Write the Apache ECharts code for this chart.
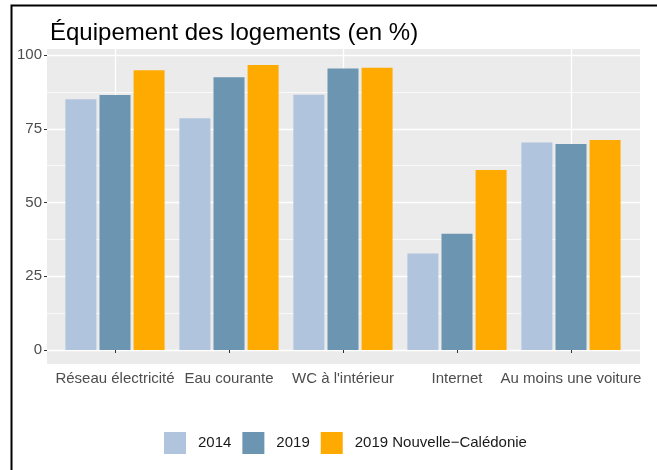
<!DOCTYPE html>
<html>
<head>
<meta charset="utf-8">
<script src="https://cdn.jsdelivr.net/npm/echarts@6/dist/echarts.min.js"></script>
<style>
  html, body { margin: 0; padding: 0; background: #fff; }
  #main { width: 657px; height: 470px; }
</style>
</head>
<body>
<div id="main"></div>
<script>
// données
var categories = ['Réseau électricité', 'Eau courante', "WC à l'intérieur", 'Internet', 'Au moins une voiture'];
var seriesNames = ['2014', '2019', '2019 Nouvelle−Calédonie'];
var values2014 = [85, 78.6, 86.5, 32.7, 70.3];
var values2019 = [86.4, 92.5, 95.4, 39.4, 69.8];
var valuesNC = [94.8, 96.6, 95.7, 61, 71.2];
var yTicks = [0, 25, 50, 75, 100];

(function () {
  var myChart = echarts.init(document.getElementById('main'));
  var font = 'Liberation Sans, Arial, sans-serif';
  var colors = ['#b0c4de', '#6b95b0', '#ffaa00'];
  var option;
  option = {
    animation: false,
    textStyle: { fontFamily: font },
    title: {
      text: 'Équipement des logements (en %)',
      left: 45,
      top: 16,
      textStyle: { color: '#000', fontSize: 24, fontWeight: 'normal', fontFamily: font }
    },
    graphic: [
      // fond du panneau (style ggplot)
      { type: 'rect', z: -10, shape: { x: 47, y: 49, width: 593, height: 315 }, style: { fill: '#ebebeb' } },
      // cadre noir
      { type: 'polyline', z: 10, shape: { points: [[657, 5.5], [11.5, 5.5], [11.5, 470]] }, style: { stroke: '#000', lineWidth: 2, fill: null } }
    ],
    legend: {
      data: seriesNames,
      left: 159,
      top: 427,
      icon: 'rect',
      itemWidth: 22,
      itemHeight: 22,
      itemGap: 11,
      textStyle: { color: '#1a1a1a', fontSize: 15, padding: [0, 0, 0, 7] }
    },
    grid: {
      left: 58,
      right: 29,
      top: 55,
      bottom: 120,
      containLabel: false
    },
    xAxis: [
      {
        type: 'category',
        data: categories,
        position: 'bottom',
        offset: 14,
        axisLine: { show: false },
        axisTick: { show: true, alignWithLabel: true, length: 3, lineStyle: { color: '#333' } },
        axisLabel: { color: '#4d4d4d', fontSize: 15, margin: 7, interval: 0 },
        splitLine: { show: false }
      },
      {
        // lignes verticales blanches
        type: 'category',
        data: categories,
        position: 'bottom',
        offset: 14,
        axisLine: { show: false },
        axisTick: { show: true, inside: true, alignWithLabel: true, length: 315, lineStyle: { color: '#fff', width: 1.3 } },
        axisLabel: { show: false },
        splitLine: { show: false }
      }
    ],
    yAxis: [
      {
        type: 'value',
        min: yTicks[0],
        max: yTicks[yTicks.length - 1],
        interval: yTicks[1] - yTicks[0],
        position: 'left',
        offset: 11,
        axisLine: { show: false },
        axisTick: { show: true, length: 3, lineStyle: { color: '#333' } },
        axisLabel: { color: '#4d4d4d', fontSize: 15, margin: 5 },
        splitLine: { show: false }
      },
      {
        // lignes horizontales blanches
        type: 'value',
        min: yTicks[0],
        max: yTicks[yTicks.length - 1],
        interval: yTicks[1] - yTicks[0],
        position: 'left',
        offset: 11,
        axisLine: { show: false },
        axisLabel: { show: false },
        axisTick: { show: true, inside: true, length: 593, lineStyle: { color: '#fff', width: 1.3 } },
        minorTick: { show: true, splitNumber: 2, length: 593, lineStyle: { color: '#fff', width: 0.7 } },
        splitLine: { show: false }
      }
    ],
    series: [
      { name: seriesNames[0], type: 'bar', data: values2014, barWidth: 31, barGap: '10%', itemStyle: { color: colors[0] } },
      { name: seriesNames[1], type: 'bar', data: values2019, barWidth: 31, barGap: '10%', itemStyle: { color: colors[1] } },
      { name: seriesNames[2], type: 'bar', data: valuesNC, barWidth: 31, barGap: '10%', itemStyle: { color: colors[2] } }
    ]
  };
  if (option && typeof option === 'object') {
    myChart.setOption(option);
  }
  window.addEventListener('resize', function () {
    myChart.resize();
  });
})();
</script>
</body>
</html>
